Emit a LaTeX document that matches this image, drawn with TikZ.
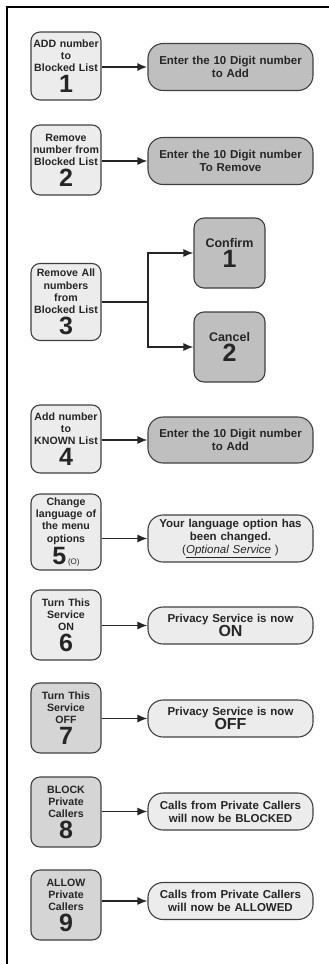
\documentclass[tikz,border=0pt]{standalone}
\usepackage{fontspec}
\setmainfont{Liberation Sans}
\usetikzlibrary{arrows.meta,positioning}

\tikzset{
 menu/.style={draw=black!75,line width=1.1pt,rounded corners=9pt,fill=gray!15,
   minimum width=70pt,text width=68pt,align=center,inner sep=1pt,
   font=\fontsize{10.6}{12.3}\selectfont\bfseries,text=black!85},
 menudark/.style={menu,fill=gray!33},
 reply/.style={draw=black!75,line width=1.1pt,rounded corners=15pt,fill=gray!50,
   minimum width=165pt,text width=160pt,align=center,inner sep=1pt,
   font=\fontsize{11.5}{12.8}\selectfont\bfseries,text=black!85},
 replylight/.style={reply,fill=gray!15},
 choice/.style={draw=black!75,line width=1.1pt,rounded corners=10pt,fill=gray!50,
   minimum width=71pt,minimum height=70pt,align=center,
   font=\fontsize{12.5}{14}\selectfont\bfseries,text=black!85},
 arr/.style={-{Latex[length=10pt,width=8pt]},line width=1.4pt,black!85},
}
\newcommand{\bignum}[1]{{\fontsize{25}{25}\selectfont #1}}

\begin{document}
\begin{tikzpicture}[x=1pt,y=-1pt]
\useasboundingbox (0,0) rectangle (329,964);
% frame
\draw[line width=2.2pt] (7,964) -- (7,7.3) -- (329,7.3);

% menu keys
\node[menu,minimum height=68pt] (l1) at (66,66) {ADD number\\to\\Blocked List\\[2pt]\bignum{1}};
\node[menu,minimum height=70pt] (l2) at (66,160) {Remove\\number from\\Blocked List\\[2pt]\bignum{2}};
\node[menu,minimum height=77pt] (l3) at (66,302) {Remove All\\numbers\\from\\Blocked List\\[2pt]\bignum{3}};
\node[menu,minimum height=68pt] (l4) at (66,439) {Add number\\to\\KNOWN List\\[2pt]\bignum{4}};
\node[menu,minimum height=76pt] (l5) at (66,532) {Change\\language of\\the menu\\options\\[2pt]\bignum{5}\,{\fontsize{8}{8}\selectfont\mdseries (O)}};
\node[menu,minimum height=70pt] (l6) at (66,625) {Turn This\\Service\\ON\\[2pt]\bignum{6}};
\node[menudark,minimum height=70pt] (l7) at (66,718) {Turn This\\Service\\OFF\\[2pt]\bignum{7}};
\node[menudark,minimum height=70pt] (l8) at (66,812) {BLOCK\\Private\\Callers\\[2pt]\bignum{8}};
\node[menudark,minimum height=70pt] (l9) at (66,905) {ALLOW\\Private\\Callers\\[2pt]\bignum{9}};

% replies
\node[reply,minimum height=47pt] (r1) at (230.5,67) {Enter the 10 Digit number\\to Add};
\node[reply,minimum height=47pt] (r2) at (230.5,161) {Enter the 10 Digit number\\To Remove};
\node[choice] (c1) at (229.5,253) {Confirm\\[2pt]\bignum{1}};
\node[choice] (c2) at (229.5,347) {Cancel\\[2pt]\bignum{2}};
\node[reply,minimum height=46pt] (r4) at (230.5,440) {Enter the 10 Digit number\\to Add};
\node[replylight,minimum height=47pt] (r5) at (230.5,538.5) {Your language option has\\been changed.\\{\mdseries (\textit{\underline{Optional Service}} )}};
\node[replylight,minimum height=37pt] (r6) at (230.5,625.5) {Privacy Service is now\\{\fontsize{16}{16}\selectfont ON}};
\node[replylight,minimum height=37pt] (r7) at (230.5,718.5) {Privacy Service is now\\{\fontsize{16}{16}\selectfont OFF}};
\node[replylight,minimum height=37pt] (r8) at (230.5,811.5) {Calls from Private Callers\\will now be BLOCKED};
\node[replylight,minimum height=37pt] (r9) at (230.5,901) {Calls from Private Callers\\will now be ALLOWED};

% connectors
\draw[arr,line width=1.9pt] (r1.west -| l1.east) -- (r1.west);
\foreach \i in {2,4,5,6,7,8,9}
 \draw[arr] (r\i.west -| l\i.east) -- (r\i.west);
\coordinate (fork) at (148,0);
\draw[arr] (l3.east) -- (l3.east -| fork) |- (c1.west);
\draw[arr] (l3.east -| fork) |- (c2.west);
\end{tikzpicture}
\end{document}
